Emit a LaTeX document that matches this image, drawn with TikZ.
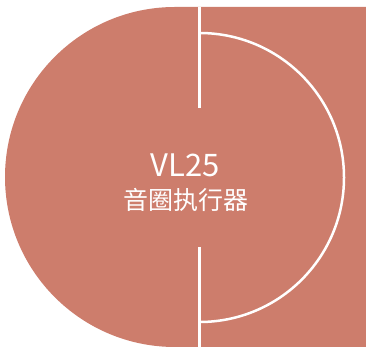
\documentclass[tikz,border=0pt]{standalone}
\usepackage{fontspec}
\newfontfamily\cjk{Noto Sans CJK SC}
\definecolor{coilred}{RGB}{205,125,108}

\begin{document}
\begin{tikzpicture}[
        x=1pt, y=1pt,
        body/.style={fill=coilred, draw=none},
        divider/.style={draw=white, line width=2.5pt},
        label/.style={text=white, inner sep=0pt, anchor=base}
    ]
 \useasboundingbox (0,0) rectangle (366,347);
 % outer body: half disc on the left, block on the right
 \path[body] (366,0) -- (175,0) arc (270:90:170) -- (366,340) -- cycle;
 % split line and inner arc
 \coordinate (topend) at (199.5,340);
 \coordinate (topcut) at (199.5,239);
 \coordinate (botcut) at (199.5,100);
 \coordinate (botend) at (199.5,0);
 \coordinate (arcstart) at (199.5,314);
 \draw[divider] (topend) -- (topcut);
 \draw[divider] (botcut) -- (botend);
 \draw[divider] (arcstart) arc (90:-90:144.5);
 % texts
 \node[label] (model) at (185,170) {\cjk\fontsize{31}{31}\selectfont VL25};
 \node[label] (kind) at (185.5,137.5) {\cjk\fontsize{25}{25}\selectfont 音圈执行器};
\end{tikzpicture}
\end{document}
